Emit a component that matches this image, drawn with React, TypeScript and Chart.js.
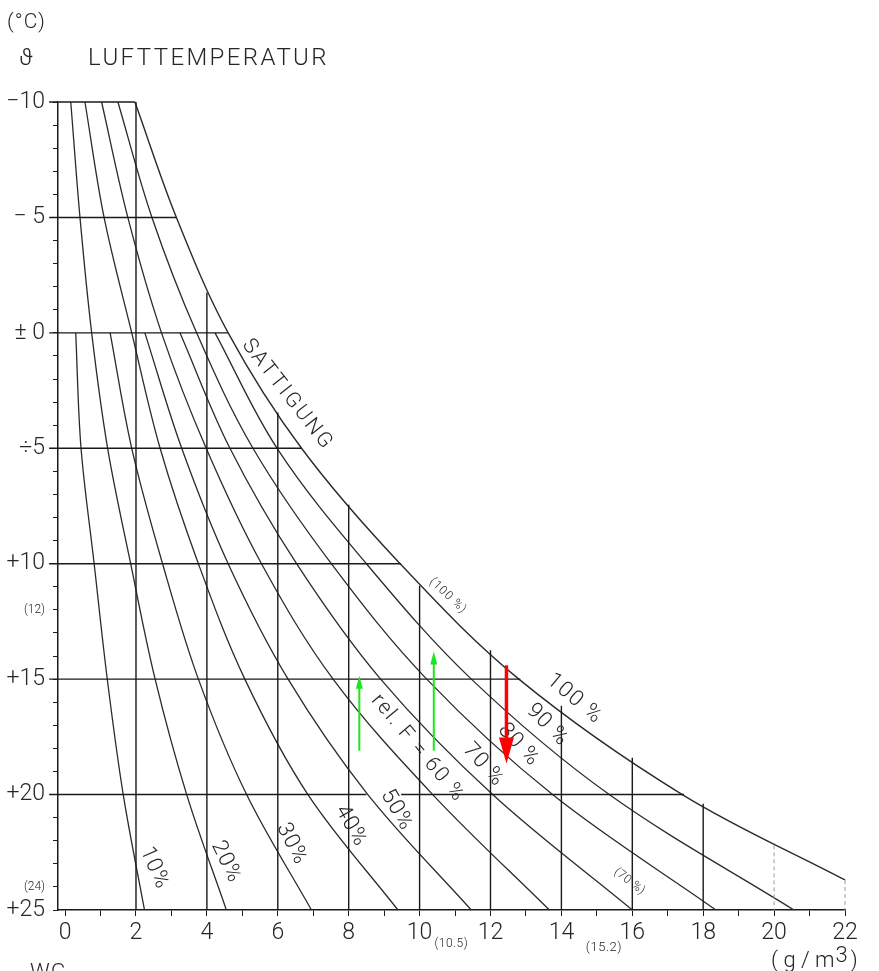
import { useEffect, useRef } from "react";
import { Chart, registerables } from "chart.js";

Chart.register(...registerables);

// ---------- data ----------
// temperatures (°C) at which the curves were read
const T_FULL = [-10, -5, 0, 5, 10, 15, 20, 25];
const T_FROM_ZERO = [0, 5, 10, 15, 20, 25];
const SAT_T = [-10, -5, 0, 5, 10, 15, 20, 23.7];

// absolute humidity (g/m3) of each relative-humidity curve
const RH10 = [0.3, 0.45, 0.82, 1.19, 1.64, 2.24];
const RH20 = [0.16, 0.42, 0.75, 1.2, 1.85, 2.54, 3.43, 4.55];
const RH30 = [1.27, 1.88, 2.75, 3.76, 5.12, 6.95];
const RH40 = [0.56, 1.1, 1.88, 2.68, 3.76, 5.07, 6.85, 9.39];
const RH50 = [2.25, 3.29, 4.6, 6.29, 8.54, 11.46];
const RH60 = [1.03, 1.77, 2.72, 3.98, 5.54, 7.56, 10.37, 13.66];
const RH70 = [3.24, 4.65, 6.53, 8.9, 12.06, 16.0];
const RH80 = [1.49, 2.45, 3.71, 5.3, 7.51, 10.2, 13.75, 18.36];
const RH90 = [4.23, 5.98, 8.5, 11.46, 15.35, 20.56];
const SAT = [1.97, 3.14, 4.6, 6.67, 9.45, 12.8, 17.41, 22.0];

// horizontal temperature lines and where they end (g/m3)
const H_T = [-10, -5, 0, 5, 10, 15, 20];
const H_END = [1.97, 3.14, 4.6, 6.67, 9.48, 12.84, 17.46];
const H_START = -0.45;
const H20_GAP = [8.5, 9.48];

// vertical humidity lines and the temperature they start at
const V_X = [2, 4, 6, 8, 10, 12, 14, 16, 18];
const V_START = [-10, -1.75, 3.45, 7.45, 10.95, 13.75, 16.15, 18.4, 20.4];
const V_DASH_X = [20, 22];
const V_DASH_START = [22.2, 23.7];

// axis ticks
const X_TICKS = Array.from({ length: 23 }, (_, i) => i); // 0..22 every 1 g/m3
const X_LABELED = [0, 2, 4, 6, 8, 10, 12, 14, 16, 18, 20, 22];
const Y_TICKS = Array.from({ length: 36 }, (_, i) => i - 10); // -10..25 every 1 °C
const Y_TICK_VALUES = [-10, -5, 0, 5, 10, 12, 15, 20, 24, 25];
const Y_TICK_TEXT = ["−10", "− 5", "± 0", "÷5", "+10", "(12)", "+15", "+20", "(24)", "+25"];
const Y_SMALL = [12, 24];

// arrows (g/m3, from °C -> to °C)
const ARROW_X = [8.3, 10.4, 12.45];
const ARROW_FROM = [18.1, 18.1, 14.4];
const ARROW_TO = [14.85, 13.8, 18.65];

// ---------- styles ----------
const FONT = '"Roboto", "DejaVu Sans", sans-serif';
const INK = "#262626";
const LINE = "#1a1a1a";
const CURVE = "#2b2b2b";
const ARROW_STYLE = [
  { color: "#1ee61e", width: 2, headW: 7, headL: 13 },
  { color: "#1ee61e", width: 2, headW: 7, headL: 13 },
  { color: "#ff0000", width: 3.5, headW: 15, headL: 26 },
];

// curve label placement (data coordinates) and rotation in degrees
const LABELS = [
  { text: "SATTIGUNG", x: 6.27, t: 2.69, angle: 52, size: 21, spacing: 2.5 },
  { text: "(100 %)", x: 10.8, t: 11.39, angle: 43, size: 12, spacing: 1 },
  { text: "100 %", x: 14.37, t: 15.86, angle: 40, size: 22, spacing: 1.5 },
  { text: "90 %", x: 13.6, t: 16.99, angle: 45, size: 22, spacing: 1 },
  { text: "80 %", x: 12.79, t: 17.85, angle: 47, size: 22, spacing: 1 },
  { text: "70 %", x: 11.8, t: 18.72, angle: 48, size: 22, spacing: 1 },
  { text: "rel. F = 60 %", x: 9.95, t: 18.0, angle: 50, size: 21, spacing: 1.8 },
  { text: "50%", x: 9.35, t: 20.67, angle: 60, size: 22, spacing: 1 },
  { text: "40%", x: 8.06, t: 21.36, angle: 60, size: 22, spacing: 1 },
  { text: "30%", x: 6.39, t: 22.14, angle: 63, size: 22, spacing: 1 },
  { text: "20%", x: 4.54, t: 22.92, angle: 64, size: 22, spacing: 1 },
  { text: "10%", x: 2.51, t: 23.18, angle: 66, size: 22, spacing: 1 },
  { text: "(70 %)", x: 15.92, t: 23.77, angle: 38, size: 12, spacing: 0.5 },
];

const pts = (xs: number[], ts: number[]) => xs.map((x, i) => ({ x, y: ts[i] }));

function lineDs(data: { x: number; y: number }[], opts: any = {}) {
  return {
    data,
    showLine: true,
    pointRadius: 0,
    pointHoverRadius: 0,
    borderColor: LINE,
    borderWidth: 1.4,
    tension: 0,
    clip: false as any,
    ...opts,
  };
}

function drawText(
  ctx: CanvasRenderingContext2D,
  text: string,
  x: number,
  y: number,
  size: number,
  opts: { angle?: number; align?: CanvasTextAlign; baseline?: CanvasTextBaseline; spacing?: number; weight?: number } = {}
) {
  ctx.save();
  ctx.translate(x, y);
  if (opts.angle) ctx.rotate((opts.angle * Math.PI) / 180);
  ctx.font = `${opts.weight ?? 300} ${size}px ${FONT}`;
  (ctx as any).letterSpacing = `${opts.spacing ?? 0}px`;
  ctx.textAlign = opts.align ?? "center";
  ctx.textBaseline = opts.baseline ?? "middle";
  ctx.fillStyle = INK;
  ctx.fillText(text, 0, 0);
  ctx.restore();
}

const annotate = {
  id: "annotate",
  afterDatasetsDraw(chart: any) {
    const { ctx, scales } = chart;
    const xs = scales.x;
    const ys = scales.y;

    // header
    drawText(ctx, "(°C)", 7, 23, 21, { align: "left", spacing: 1 });
    drawText(ctx, "ϑ", 19, 59, 24, { align: "left" });
    drawText(ctx, "LUFTTEMPERATUR", 88, 59, 24, { align: "left", spacing: 2.4 });

    // curve labels
    LABELS.forEach((l) =>
      drawText(ctx, l.text, xs.getPixelForValue(l.x), ys.getPixelForValue(l.t), l.size, {
        angle: l.angle,
        spacing: l.spacing,
      })
    );

    // bottom notes
    drawText(ctx, "(10.5)", xs.getPixelForValue(10.5) + 14, 944, 12, { spacing: 0.5 });
    drawText(ctx, "(15.2)", xs.getPixelForValue(15.2) + 0, 948, 13, { spacing: 0.5 });
    drawText(ctx, "( g / m", 771, 967, 22, { align: "left", baseline: "alphabetic" });
    ctx.save();
    ctx.font = `300 22px ${FONT}`;
    const w = ctx.measureText("( g / m").width;
    ctx.restore();
    drawText(ctx, "3", 771 + w + 1, 962, 22, { align: "left", baseline: "alphabetic" });
    drawText(ctx, ")", 771 + w + 16, 967, 22, { align: "left", baseline: "alphabetic" });
    drawText(ctx, "WG", 30, 979, 22, { align: "left", baseline: "alphabetic", spacing: 1 });

    // arrows
    ARROW_X.forEach((ax, i) => {
      const st = ARROW_STYLE[i];
      const px = xs.getPixelForValue(ax);
      const y0 = ys.getPixelForValue(ARROW_FROM[i]);
      const y1 = ys.getPixelForValue(ARROW_TO[i]);
      const dir = Math.sign(y1 - y0);
      ctx.save();
      ctx.strokeStyle = st.color;
      ctx.fillStyle = st.color;
      ctx.lineWidth = st.width;
      ctx.beginPath();
      ctx.moveTo(px, y0);
      ctx.lineTo(px, y1 - dir * st.headL * 0.8);
      ctx.stroke();
      ctx.beginPath();
      ctx.moveTo(px, y1);
      ctx.lineTo(px - st.headW / 2, y1 - dir * st.headL);
      ctx.lineTo(px + st.headW / 2, y1 - dir * st.headL);
      ctx.closePath();
      ctx.fill();
      ctx.restore();
    });
  },
};

export default function App() {
  const ref = useRef<HTMLCanvasElement | null>(null);

  useEffect(() => {
    if (!ref.current) return;
    const curveOpts = { borderColor: CURVE, borderWidth: 1.3, tension: 0.35 };
    const datasets: any[] = [];

    // horizontal temperature lines
    H_T.forEach((t, i) => {
      if (t === 20) {
        datasets.push(lineDs(pts([H_START, H20_GAP[0]], [t, t])));
        datasets.push(lineDs(pts([H20_GAP[1], H_END[i]], [t, t])));
      } else {
        datasets.push(lineDs(pts([H_START, H_END[i]], [t, t])));
      }
    });
    // vertical humidity lines
    V_X.forEach((x, i) => datasets.push(lineDs(pts([x, x], [V_START[i], 25]))));
    V_DASH_X.forEach((x, i) =>
      datasets.push(
        lineDs(pts([x, x], [V_DASH_START[i], 25]), { borderColor: "#9a9a9a", borderWidth: 1, borderDash: [4, 3] })
      )
    );

    // relative humidity curves
    [RH20, RH40, RH60, RH80].forEach((c) => datasets.push(lineDs(pts(c, T_FULL), curveOpts)));
    [RH10, RH30, RH50, RH70, RH90].forEach((c) => datasets.push(lineDs(pts(c, T_FROM_ZERO), curveOpts)));
    datasets.push(lineDs(pts(SAT, SAT_T), { ...curveOpts, borderWidth: 1.4 }));

    const chart = new Chart(ref.current, {
      type: "scatter",
      data: { datasets },
      options: {
        animation: false,
        responsive: false,
        devicePixelRatio: 1,
        events: [],
        layout: { padding: { left: 0, right: 34, top: 102, bottom: 0 } },
        plugins: { legend: { display: false }, tooltip: { enabled: false } },
        scales: {
          x: {
            type: "linear",
            min: -0.2,
            max: 22,
            afterBuildTicks: (s: any) => {
              s.ticks = X_TICKS.map((v) => ({ value: v }));
            },
            afterFit: (s: any) => {
              s.height = 61;
            },
            ticks: {
              autoSkip: false,
              maxRotation: 0,
              padding: 3,
              color: INK,
              font: { family: FONT, size: 23, weight: 300 as any },
              callback: (v: any) => (X_LABELED.includes(Number(v)) ? String(v) : ""),
            },
            grid: { drawOnChartArea: false, drawTicks: true, tickLength: 6, color: LINE, lineWidth: 1 },
            border: { display: true, color: LINE, width: 1.5 },
          },
          y: {
            type: "linear",
            reverse: true,
            min: -10,
            max: 25,
            afterBuildTicks: (s: any) => {
              s.ticks = Y_TICKS.map((v) => ({ value: v }));
            },
            afterFit: (s: any) => {
              s.width = 58;
            },
            ticks: {
              autoSkip: false,
              padding: 8,
              color: INK,
              font: (c: any) => ({
                family: FONT,
                size: c.tick && Y_SMALL.includes(c.tick.value) ? 12 : 23,
                weight: 300 as any,
              }),
              callback: (v: any) => {
                const k = Y_TICK_VALUES.indexOf(Number(v));
                return k >= 0 ? Y_TICK_TEXT[k] : "";
              },
            },
            grid: { drawOnChartArea: false, drawTicks: true, tickLength: 5, color: LINE, lineWidth: 1 },
            border: { display: true, color: LINE, width: 1.5 },
          },
        },
      },
      plugins: [annotate],
    });
    return () => chart.destroy();
  }, []);

  return (
    <div style={{ position: "fixed", left: 0, top: 0, width: 879, height: 971, background: "#fff" }}>
      <canvas ref={ref} width={879} height={971} style={{ display: "block" }} />
    </div>
  );
}
